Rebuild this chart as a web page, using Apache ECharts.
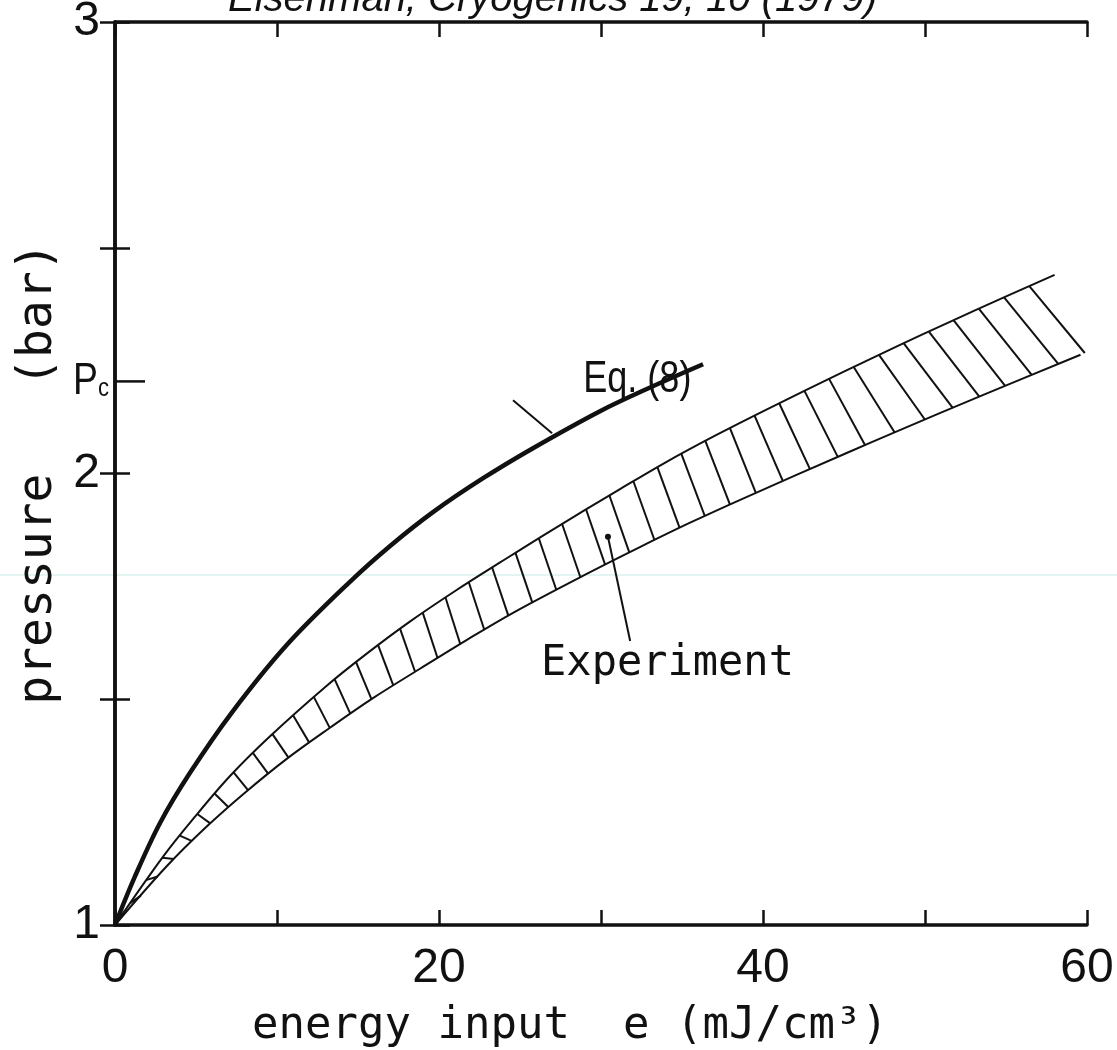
<!DOCTYPE html>
<html><head><meta charset="utf-8">
<script src="https://cdn.jsdelivr.net/npm/echarts@6/dist/echarts.min.js"></script>
<style>html,body{margin:0;padding:0;background:#fff}#c{width:1117px;height:1050px}</style>
</head><body><div id="c"></div>
<script>
// ---- data ----
const xTickLabels = ['0', '', '20', '', '40', '', '60'];   // ticks every 10
const yTickLabels = {'1': '1', '2': '2', '3': '3'};         // ticks every 0.5
const PC = 2.204;                                           // critical pressure mark
const eqE = [0, 1.2, 2.78, 4.63, 7.2, 10.6, 14.5, 17.0, 19.65, 22.7, 25.8, 29.94, 33.0, 36.3];
const eqP = [1, 1.105, 1.226, 1.337, 1.47, 1.62, 1.76, 1.84, 1.915, 1.989, 2.056, 2.138, 2.19, 2.242];
const upE = [0, 2.98, 4.94, 7.1, 9.57, 13.07, 15.5, 18.2, 21.09, 23.77, 26.85, 31.2, 34.05, 37.1, 40.4, 44.96, 48.46, 51.3, 54.8, 58.0];
const upP = [1, 1.152, 1.24, 1.33, 1.418, 1.53, 1.6, 1.672, 1.742, 1.803, 1.872, 1.966, 2.026, 2.085, 2.145, 2.225, 2.285, 2.332, 2.389, 2.44];
const loE = [0, 3.19, 5.66, 8.02, 10.6, 13.27, 15.9, 18.8, 21.7, 24.6, 29.3, 32.4, 35.5, 38.8, 45.2, 48.3, 53.6, 59.6];
const loP = [1, 1.13, 1.218, 1.293, 1.368, 1.437, 1.502, 1.567, 1.631, 1.692, 1.781, 1.837, 1.891, 1.945, 2.046, 2.094, 2.174, 2.263];
// hatch: shift (in e) from upper-edge start to lower-edge end
const hatchShiftE = [0, 10, 20, 30, 38, 44, 48, 58];
const hatchShiftD = [0.6, 1.0, 0.9, 1.2, 1.6, 2.2, 3.0, 3.5];
const eqLabel = 'Eq. (8)';
const expLabel = 'Experiment';
const eqLabelAt = [28.9, 2.207];
const expLabelAt = [26.3, 1.578];
const eqLeader = [[24.57, 2.162], [26.98, 2.089]];
const expLeader = [[30.43, 1.86], [31.8, 1.629]];

const FONT = "'DejaVu Sans Mono', monospace";
const SANS = "'Liberation Sans', sans-serif";
const INK = '#111';

function zip(a, b) { return a.map((v, i) => [v, b[i]]); }
function interp(xs, ys, x) {
  let i = 0;
  if (x <= xs[0]) i = 0;
  else if (x >= xs[xs.length - 1]) i = xs.length - 2;
  else { while (xs[i + 1] < x) i++; }
  const t = (x - xs[i]) / (xs[i + 1] - xs[i]);
  return ys[i] + t * (ys[i + 1] - ys[i]);
}

const chart = echarts.init(document.getElementById('c'), null, {renderer: 'canvas'});

const axisLine = {show: true, lineStyle: {color: INK, width: 3.5}};
const tick = {show: true, inside: true, length: 15, lineStyle: {color: INK, width: 2.5}};

const option = {
  animation: false,
  backgroundColor: '#fff',
  grid: {left: 115, top: 22, width: 972, height: 903, containLabel: false, outerBoundsMode: 'none'},
  xAxis: [
    {type: 'value', min: 0, max: 60, interval: 10, position: 'bottom',
     axisLine, axisTick: tick, splitLine: {show: false},
     axisLabel: {formatter: v => xTickLabels[Math.round(v / 10)] || '', fontFamily: SANS, fontSize: 48, color: INK, margin: 20},
     name: 'energy input  e (mJ/cm³)', nameLocation: 'middle', nameGap: 80,
     nameTextStyle: {fontFamily: FONT, fontSize: 44, color: INK, padding: [0, 62, 0, 0]}},
    {type: 'value', min: 0, max: 60, interval: 10, position: 'top',
     axisLine, axisTick: tick, splitLine: {show: false}, axisLabel: {show: false}}
  ],
  yAxis: [
    {type: 'value', min: 1, max: 3, interval: 0.5, position: 'left',
     axisLine, axisTick: tick, splitLine: {show: false},
     axisLabel: {formatter: v => yTickLabels[String(v)] || '', fontFamily: SANS, fontSize: 48, color: INK, margin: 15},
     name: 'pressure   (bar)', nameLocation: 'middle', nameGap: 50, nameRotate: 90,
     nameTextStyle: {fontFamily: FONT, fontSize: 48, color: INK}},
    {type: 'value', min: 1, max: 3, interval: 0.5, position: 'right',
     axisLine, axisTick: tick, splitLine: {show: false}, axisLabel: {show: false}}
  ],
  series: [
    {type: 'line', name: 'Eq. (8)', data: zip(eqE, eqP), smooth: 0.35, showSymbol: false,
     lineStyle: {color: INK, width: 4.5}, z: 5},
    {type: 'line', name: 'upper', data: zip(upE, upP), smooth: 0.35, showSymbol: false,
     lineStyle: {color: INK, width: 2}},
    {type: 'line', name: 'lower', data: zip(loE, loP), smooth: 0.35, showSymbol: false,
     lineStyle: {color: INK, width: 2}},
    {type: 'custom', name: 'hatch', clip: true, data: [[0, 1]],
     renderItem: function (params, api) {
       const children = [];
       const step = 0.04;
       const SPACING = 27.6;
       let prev = api.coord([0, 1]);
       let acc = 0, next = 27;
       for (let e = step; e <= 57; e += step) {
         const pt = api.coord([e, interp(upE, upP, e)]);
         acc += Math.hypot(pt[0] - prev[0], pt[1] - prev[1]);
         if (acc >= next) {
           const d = interp(hatchShiftE, hatchShiftD, e);
           const eb = e + d;
           const pb = api.coord([eb, interp(loE, loP, eb)]);
           children.push({type: 'line', shape: {x1: pt[0], y1: pt[1], x2: pb[0], y2: pb[1]},
                          style: {stroke: INK, lineWidth: 2}});
           next += SPACING;
         }
         prev = pt;
       }
       return {type: 'group', children};
     }}
  ]
};
chart.setOption(option);

// annotations placed at data positions
const px = p => chart.convertToPixel({xAxisIndex: 0, yAxisIndex: 0}, p);
const pc0 = px([0, PC]);
const eqT = px(eqLabelAt), exT = px(expLabelAt);
const eqL0 = px(eqLeader[0]), eqL1 = px(eqLeader[1]);
const exL0 = px(expLeader[0]), exL1 = px(expLeader[1]);
chart.setOption({
  graphic: [
    {type: 'line', shape: {x1: 0, y1: 575, x2: 1117, y2: 575}, style: {stroke: '#e3f5f3', lineWidth: 2}, z: -1},
    {type: 'line', shape: {x1: pc0[0], y1: pc0[1], x2: pc0[0] + 30, y2: pc0[1]}, style: {stroke: INK, lineWidth: 2.5}},
    {type: 'text', x: pc0[0] - 6, y: pc0[1], scaleX: 0.85, style: {
      text: '{p|P}{c|c}', align: 'right', verticalAlign: 'middle',
      rich: {p: {fontFamily: SANS, fontSize: 44, fill: INK}, c: {fontFamily: SANS, fontSize: 26, fill: INK, padding: [14, 0, 0, 0]}}}},
    {type: 'text', x: eqT[0], y: eqT[1], scaleX: 0.82, style: {text: eqLabel, fontFamily: SANS, fontSize: 44, fill: INK, align: 'left', verticalAlign: 'middle'}},
    {type: 'text', x: exT[0], y: exT[1], style: {text: expLabel, fontFamily: FONT, fontSize: 42, fill: INK, align: 'left', verticalAlign: 'middle'}},
    {type: 'line', shape: {x1: eqL0[0], y1: eqL0[1], x2: eqL1[0], y2: eqL1[1]}, style: {stroke: INK, lineWidth: 2}},
    {type: 'line', shape: {x1: exL0[0], y1: exL0[1], x2: exL1[0], y2: exL1[1]}, style: {stroke: INK, lineWidth: 2}},
    {type: 'circle', shape: {cx: exL0[0], cy: exL0[1], r: 3}, style: {fill: INK}},
    {type: 'text', x: 228, y: 20, style: {text: 'Eisenman, Cryogenics 19, 10 (1979)', fontFamily: SANS,
      fontStyle: 'italic', fontSize: 40, fill: INK, align: 'left', verticalAlign: 'bottom'}}
  ]
});
</script></body></html>
